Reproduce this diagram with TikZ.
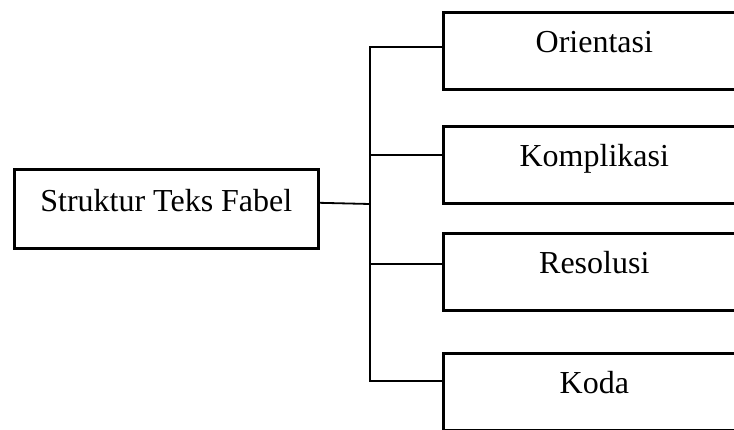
\documentclass[tikz,border=0pt]{standalone}
\usepackage{fontspec}
\setmainfont{Liberation Serif}
\begin{document}
\begin{tikzpicture}[x=1pt,y=-1pt,
  box/.style={draw,line width=2.6pt,inner sep=0pt,anchor=north west,
    minimum width=#1,text height=40pt,text depth=37pt,
    font=\fontsize{32}{38}\selectfont},
  link/.style={line width=1.8pt}]
  \useasboundingbox (0,0) rectangle (734,429);
  \clip (0,0) rectangle (734,429);
  % root box
  \node[box=304pt,text height=42pt] (s) at (13,168) {Struktur Teks Fabel};
  % branch boxes
  \node[box=302pt] (o) at (442,11)  {Orientasi};
  \node[box=302pt] (c) at (442,125) {Komplikasi};
  \node[box=302pt] (r) at (442,232) {Resolusi};
  \node[box=302pt] (k) at (442,352) {Koda};
  % junctions on the trunk
  \coordinate (jm) at (370,204);
  \coordinate (j1) at (370,47);
  \coordinate (j2) at (370,155);
  \coordinate (j3) at (370,264);
  \coordinate (j4) at (370,381);
  % connectors
  \draw[link] ([yshift=6pt]s.east) -- (jm);
  \draw[link] (j1 -| o.west) -- (j1) -- (j4) -- (j4 -| k.west);
  \draw[link] (j2) -- (j2 -| c.west);
  \draw[link] (j3) -- (j3 -| r.west);
\end{tikzpicture}
\end{document}
